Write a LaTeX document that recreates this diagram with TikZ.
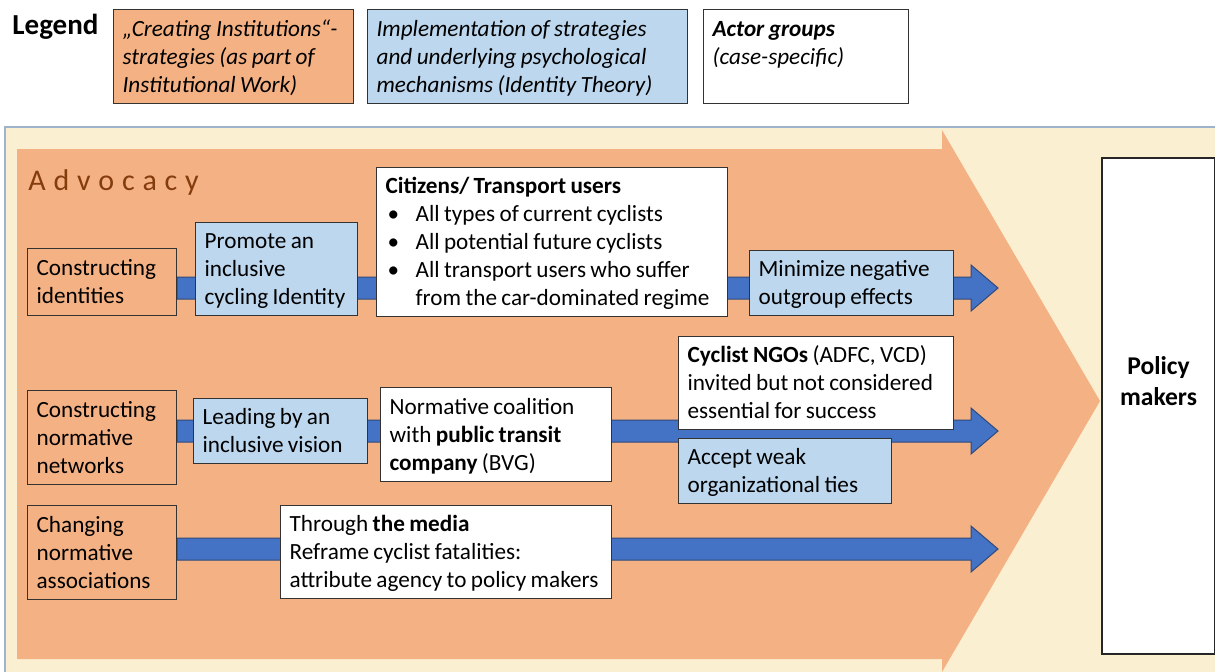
\documentclass[tikz,border=0pt]{standalone}
\usepackage{fontspec}
\setmainfont{Carlito}
\usepackage{tikz}
\usetikzlibrary{positioning}
\usetikzlibrary{calc}
\usetikzlibrary{backgrounds}

\definecolor{stratorange}{HTML}{F4B183}
\definecolor{mechblue}{HTML}{BDD7EE}
\definecolor{arrowblue}{HTML}{4472C4}
\definecolor{arrowline}{HTML}{2F4A7A}
\definecolor{creambg}{HTML}{FBEFD2}
\definecolor{framegrey}{HTML}{9FB3CC}
\definecolor{advbrown}{HTML}{843C0C}

\newcommand{\lines}[1]{\spaceskip=2.2pt plus 1pt minus 0.5pt\relax
  \raisebox{-1pt}[\height][\depth]{\begin{tabular}{@{}l@{}}#1\end{tabular}}}
\newcommand{\advgap}{\hspace{3.9pt}}
\newcommand{\flowarrow}[2]{%
  \fill[arrowblue, draw=arrowline, line width=0.5pt] let \p1=(#1), \p2=(#2) in
    (\x1,\y2+5.5pt) -- (\x2-13.5pt,\y2+5.5pt) -- (\x2-13.5pt,\y2+11.5pt) -- (\x2,\y2)
    -- (\x2-13.5pt,\y2-11.5pt) -- (\x2-13.5pt,\y2-5.5pt) -- (\x1,\y2-5.5pt) -- cycle;}

\begin{document}
\begin{tikzpicture}[x=0.5pt,y=-0.5pt,
  cellbox/.style={draw=black!80, line width=0.6pt, anchor=north west, align=left,
    inner xsep=4.5pt, inner ysep=0pt, font=\fontsize{11.6}{14}\selectfont},
  strat/.style={cellbox, fill=stratorange},
  mech/.style={cellbox, fill=mechblue},
  actor/.style={cellbox, fill=white},
  legendbox/.style={font=\fontsize{11.6}{14}\selectfont\itshape}]

  \clip (0,0) rectangle (1215,671);

  \begin{scope}[on background layer]
    \fill[white] (0,0) rectangle (1215,671);
    \draw[framegrey, fill=creambg, line width=0.8pt] (5,127) rectangle (1240,700);
    \fill[stratorange] (17,149) -- (942,149) -- (942,130) -- (1100,401) -- (942,672)
      -- (942,659) -- (17,659) -- cycle;
  \end{scope}

  % legend
  \node[anchor=base west, inner sep=0pt, font=\fontsize{14.5}{17}\selectfont\bfseries] (leg) at (12,34) {Legend};
  \node[strat, legendbox, text width=111pt, minimum height=47pt] (leg1) at (113,9)
    {\lines{„Creating Institutions“-\\strategies (as part of\\Institutional Work)}};
  \node[mech, legendbox, text width=151pt, minimum height=47pt] (leg2) at (367,9)
    {\lines{Implementation of strategies\\and underlying psychological\\mechanisms (Identity Theory)}};
  \node[actor, legendbox, text width=93.5pt, minimum height=47pt] (leg3) at (703,9)
    {\lines{\textbf{Actor groups}\\(case-specific)\\\mbox{}}};

  \node[anchor=base west, inner sep=0pt, text=advbrown, font=\fontsize{15}{18}\selectfont] (adv) at (28,190)
    {A\advgap d\advgap v\advgap o\advgap c\advgap a\advgap c\advgap y};

  % first row
  \node[strat, text width=65.5pt, minimum height=33.5pt] (ci) at (27,248) {\lines{Constructing\\identities}};
  \node[mech, text width=72pt, minimum height=46.5pt] (pi) at (195,222) {\lines{Promote an\\inclusive\\cycling Identity}};
  \node[actor, text width=166.5pt, minimum height=74.5pt] (cit) at (376,167)
    {\lines{\textbf{Citizens/ Transport users}\\
     \hspace*{1pt}\makebox[14pt][l]{\textbullet}All types of current cyclists\\
     \hspace*{1pt}\makebox[14pt][l]{\textbullet}All potential future cyclists\\
     \hspace*{1pt}\makebox[14pt][l]{\textbullet}All transport users who suffer\\
     \hspace*{15pt}from the car-dominated regime}};
  \node[mech, text width=93pt, minimum height=32.5pt] (mn) at (749,250) {\lines{Minimize negative\\outgroup effects}};

  % second row
  \node[strat, text width=65.5pt, minimum height=47pt] (cn) at (27,390) {\lines{Constructing\\normative\\networks}};
  \node[mech, text width=78pt, minimum height=32.5pt] (lv) at (193,398) {\lines{Leading by an\\inclusive vision}};
  \node[actor, text width=106.5pt, minimum height=47pt] (nc) at (380,387)
    {\lines{Normative coalition\\with \textbf{public transit}\\\textbf{company} (BVG)}};
  \node[actor, text width=128.5pt, minimum height=46.5pt] (ngo) at (678,336)
    {\lines{\textbf{Cyclist NGOs} (ADFC, VCD)\\invited but not considered\\essential for success}};
  \node[mech, text width=97.5pt, minimum height=32.5pt] (aw) at (678,438) {\lines{Accept weak\\organizational ties}};

  % third row
  \node[strat, text width=65.5pt, minimum height=47pt] (cna) at (27,505) {\lines{Changing\\normative\\associations}};
  \node[actor, text width=156.5pt, minimum height=46.5pt] (med) at (280,505)
    {\lines{Through \textbf{the media}\\Reframe cyclist fatalities:\\attribute agency to policy makers}};

  \node[draw=black!85, line width=1pt, fill=white, anchor=north west, minimum width=56.5pt, minimum height=248pt,
    label={[font=\fontsize{12.8}{15.4}\selectfont\bfseries, align=center, yshift=12.5pt]center:Policy\\makers}] (pm) at (1101,157) {};

  \coordinate (tip1) at (998,288);
  \coordinate (tip2) at (998,431);
  \coordinate (tip3) at (998,549);

  \begin{scope}[on background layer]
    \flowarrow{ci.east}{tip1}
    \flowarrow{cn.east}{tip2}
    \flowarrow{cna.east}{tip3}
  \end{scope}
\end{tikzpicture}
\end{document}
